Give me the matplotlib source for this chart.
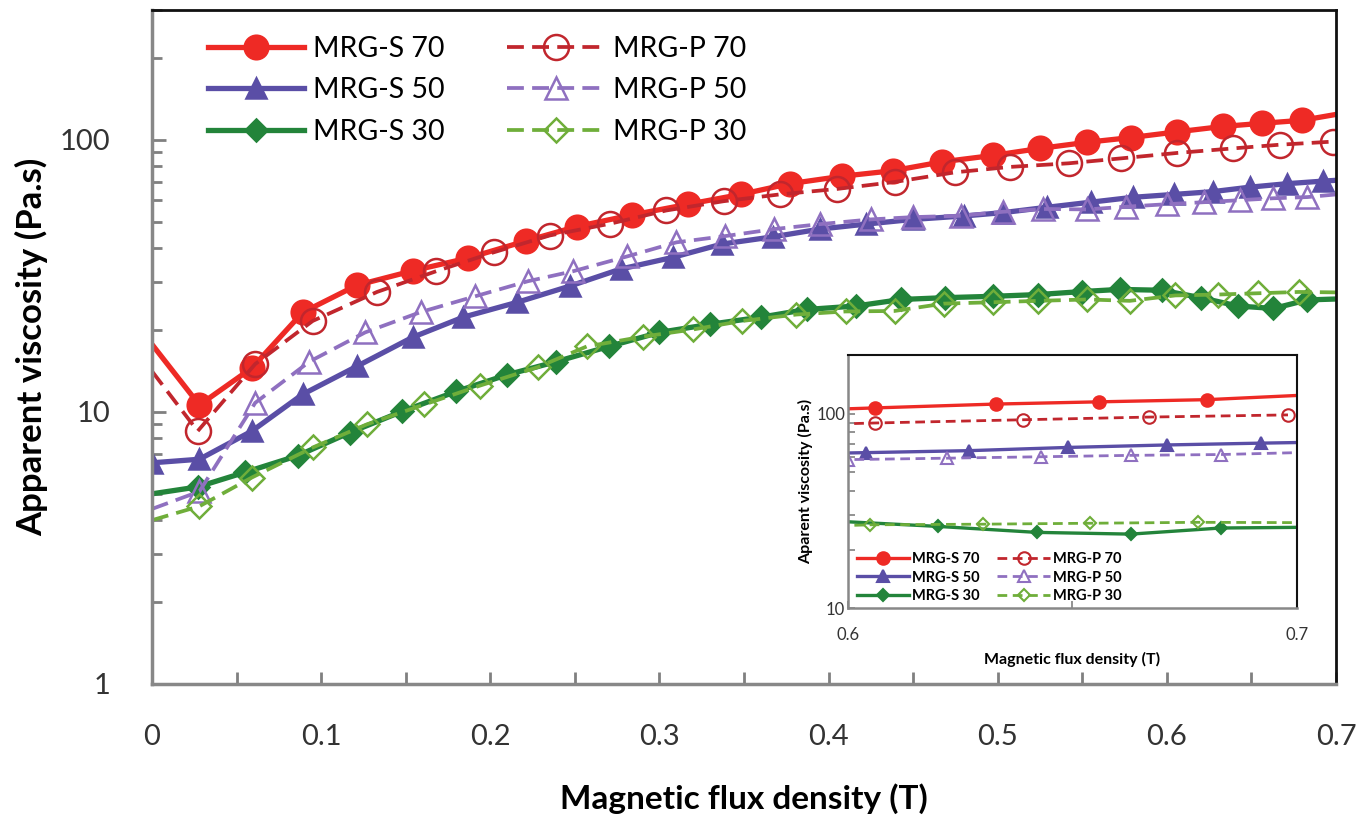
import numpy as np
import matplotlib
matplotlib.use('Agg')
import matplotlib.pyplot as plt
from matplotlib.ticker import MultipleLocator, LogLocator, NullFormatter, FixedLocator, FixedFormatter

plt.rcParams['font.family'] = ['Lato', 'DejaVu Sans']

# --- data (B in T, apparent viscosity in Pa.s) ---
s70_x = [0, .028, .059, .089, .121, .154, .187, .221, .251, .284, .317, .348, .377, .408, .438,
         .467, .497, .525, .553, .579, .606, .633, .656, .680, .700]
s70_y = [17.7, 10.6, 14.5, 23.2, 29.2, 33.0, 36.8, 42.5, 48.0, 53, 58, 63, 69, 73.5, 77,
         83, 87.6, 93, 98, 102, 107, 112, 115, 118, 124]

p70_x = [0, .027, .061, .095, .133, .168, .202, .235, .271, .304, .338, .371, .405, .439,
         .475, .507, .542, .573, .606, .639, .667, .698]
p70_y = [14.1, 8.5, 15.0, 21.6, 27.6, 32.9, 38.6, 44.5, 49.2, 55, 59.5, 63, 66, 70,
         76, 79.5, 82, 85.5, 89.5, 93, 96, 98.5]

s50_x = [0, .028, .059, .089, .121, .154, .184, .216, .247, .277, .308, .337, .367, .395,
         .422, .45, .48, .503, .529, .555, .58, .604, .627, .649, .671, .692, .70]
s50_y = [6.5, 6.7, 8.5, 11.6, 14.7, 18.8, 22.3, 25.3, 29, 33.5, 37, 41.4, 44, 47,
         49, 51, 52.5, 54, 56.5, 59, 61.5, 63, 64.5, 67, 69, 70.5, 71]

p50_x = [0, .028, .061, .093, .126, .159, .191, .222, .249, .281, .31, .339, .368, .395,
         .425, .45, .478, .503, .527, .553, .576, .6, .622, .643, .663, .683, .7]
p50_y = [4.4, 5.1, 10.8, 15.3, 19.6, 23.3, 26.6, 30.2, 32.9, 37.3, 42, 44.3, 47, 49,
         51, 52, 52.6, 54.4, 55.7, 55.5, 56.8, 58, 59, 60, 61, 61.6, 63]

s30_x = [0, .027, .055, .086, .117, .148, .18, .21, .239, .27, .3, .33, .36, .387,
         .416, .443, .469, .497, .524, .55, .572, .597, .62, .642, .663, .683, .7]
s30_y = [5.0, 5.3, 6.0, 6.9, 8.4, 10.05, 11.9, 13.7, 15.3, 17.4, 19.6, 21, 22.3, 23.8,
         24.5, 25.9, 26.3, 26.6, 27, 27.7, 28.2, 28, 26.3, 24.5, 24, 25.8, 26]

p30_x = [0, .028, .059, .095, .127, .161, .194, .228, .257, .29, .32, .349, .381, .41,
         .439, .468, .497, .524, .553, .578, .605, .63, .654, .678, .7]
p30_y = [4.0, 4.5, 5.74, 7.4, 9.0, 10.65, 12.5, 14.6, 17.4, 18.9, 20.1, 21.6, 22.8, 23.4,
         23.5, 25.0, 25.3, 25.6, 25.9, 25.6, 26.8, 27, 27.3, 27.6, 27.5]

labels = ['MRG-S 70', 'MRG-S 50', 'MRG-S 30', 'MRG-P 70', 'MRG-P 50', 'MRG-P 30']
x_ticks = [0, 0.1, 0.2, 0.3, 0.4, 0.5, 0.6, 0.7]
y_ticks = [1, 10, 100]

series = [
    # x, y, color, marker, filled, dashed, markevery
    (s70_x, s70_y, '#ee2a25', 'o', True, False, slice(1, -1)),
    (s50_x, s50_y, '#5a4ea6', '^', True, False, slice(0, -1)),
    (s30_x, s30_y, '#23843a', 'D', True, False, slice(1, -1)),
    (p70_x, p70_y, '#c1262d', 'o', False, True, slice(1, None)),
    (p50_x, p50_y, '#8f70c0', '^', False, True, slice(1, -1)),
    (p30_x, p30_y, '#6fae3a', 'D', False, True, slice(1, -1)),
]
main_ms = {'o': 17, '^': 15, 'D': 11}
inset_ms = {'o': 9, '^': 8, 'D': 6}

fig = plt.figure(figsize=(13.71, 8.22), dpi=100)
ax = fig.add_axes([0.1109, 0.1679, 0.8636, 0.8199])

for (x, y, c, m, filled, dashed, me), lab in zip(series, labels):
    ax.plot(x, y, color=c, lw=2.7 if dashed else 3.8, ls=(0, (4.5, 2.2)) if dashed else '-',
            marker=m, ms=main_ms[m] + (1 if not filled else 0),
            mfc=c if filled else 'none', mec=c, mew=1.8, markevery=me, label=lab)

ax.set_yscale('log')
ax.set_xlim(0, 0.7)
ax.set_ylim(1, 300)
ax.xaxis.set_major_locator(FixedLocator(x_ticks))
ax.xaxis.set_major_formatter(FixedFormatter([f'{v:g}' for v in x_ticks]))
ax.xaxis.set_minor_locator(MultipleLocator(0.05))
ax.yaxis.set_major_locator(FixedLocator(y_ticks))
ax.yaxis.set_major_formatter(FixedFormatter([str(v) for v in y_ticks]))
ax.yaxis.set_minor_locator(LogLocator(base=10, subs=range(2, 10)))
ax.yaxis.set_minor_formatter(NullFormatter())
ax.tick_params(axis='both', which='both', direction='in', colors='#808080',
               labelcolor='#333333', labelsize=21, width=2)
ax.tick_params(axis='x', which='both', length=9, pad=29)
ax.tick_params(axis='y', which='major', length=10, pad=30)
ax.tick_params(axis='y', which='minor', length=7)
ax.tick_params(top=False, right=False, which='both')
for s in ['left', 'bottom']:
    ax.spines[s].set_color('#888888')
    ax.spines[s].set_linewidth(2.5)
for s in ['top', 'right']:
    ax.spines[s].set_color('#111111')
    ax.spines[s].set_linewidth(2)

ax.set_xlabel('Magnetic flux density (T)', fontsize=24, fontweight='bold', labelpad=24)
ax.set_ylabel('Apparent viscosity (Pa.s)', fontsize=25, fontweight='bold', labelpad=8)

ax.legend(loc='upper left', bbox_to_anchor=(0.047, 0.962), ncol=2, frameon=False,
          fontsize=20.5, handlelength=3.4, handletextpad=0.3, columnspacing=2.2,
          labelspacing=0.55, borderpad=0, borderaxespad=0)

# --- inset zoom 0.6 - 0.7 T ---
ax2 = fig.add_axes([0.6185, 0.2603, 0.3275, 0.3077])
for (x, y, c, m, filled, dashed, me), lab in zip(series, labels):
    ax2.plot(x, y, color=c, lw=2.0 if dashed else 2.4, ls=(0, (3.5, 2)) if dashed else '-',
             marker=m, ms=inset_ms[m], mfc=c if filled else 'none', mec=c, mew=1.5,
             markevery=me, label=lab)
ax2.set_yscale('log')
ax2.set_xlim(0.6, 0.7)
ax2.set_ylim(10, 200)
ax2.xaxis.set_major_locator(FixedLocator([0.6, 0.65, 0.7]))
ax2.xaxis.set_major_formatter(FixedFormatter(['0.6', '', '0.7']))
ax2.yaxis.set_major_locator(FixedLocator([10, 100]))
ax2.yaxis.set_major_formatter(FixedFormatter(['10', '100']))
ax2.yaxis.set_minor_locator(LogLocator(base=10, subs=range(2, 10)))
ax2.yaxis.set_minor_formatter(NullFormatter())
ax2.tick_params(axis='both', which='both', direction='in', colors='#808080',
                labelcolor='#333333', labelsize=12, width=1.2, length=5)
ax2.tick_params(axis='x', pad=14)
ax2.tick_params(axis='y', pad=2)
for s in ['left', 'bottom']:
    ax2.spines[s].set_color('#888888')
    ax2.spines[s].set_linewidth(1.8)
for s in ['top', 'right']:
    ax2.spines[s].set_color('#111111')
    ax2.spines[s].set_linewidth(1.5)
ax2.set_xlabel('Magnetic flux density (T)', fontsize=11.5, fontweight='bold', labelpad=6)
ax2.set_ylabel('Aparent viscosity (Pa.s)', fontsize=11.5, fontweight='bold', labelpad=2)
ax2.legend(loc='lower left', bbox_to_anchor=(0.02, 0.02), ncol=2, frameon=False,
           prop={'size': 10.5, 'weight': 'bold'}, handlelength=3.6, handletextpad=0.2,
           columnspacing=1.2, labelspacing=0.3, borderpad=0, borderaxespad=0)

fig.savefig('out.png', dpi=100)
